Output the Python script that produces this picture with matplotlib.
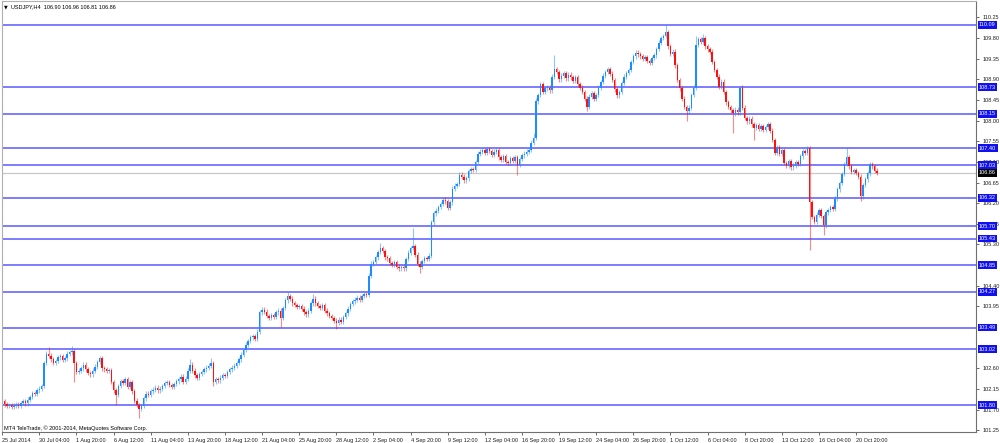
import matplotlib
matplotlib.use("Agg")
import matplotlib.pyplot as plt
from matplotlib.transforms import blended_transform_factory

# ---------------- data ----------------
closes = [
    101.88, 101.82, 101.78, 101.80, 101.76, 101.79, 101.81, 101.78, 101.85, 101.88,
    101.84, 101.92, 101.98, 102.06, 102.04, 102.12, 102.16, 102.22, 102.72, 102.92,
    102.88, 102.80, 102.72, 102.76, 102.84, 102.86, 102.78, 102.82, 102.92, 102.95,
    102.98, 102.72, 102.52, 102.55, 102.60, 102.68, 102.58, 102.50, 102.47, 102.55,
    102.64, 102.74, 102.82, 102.60, 102.58, 102.55, 102.57, 102.30, 102.12, 102.02,
    102.22, 102.32, 102.28, 102.36, 102.20, 102.30, 102.10, 101.90, 101.80, 101.72,
    101.78, 101.95, 102.05, 102.02, 102.10, 102.14, 102.18, 102.12, 102.16, 102.22,
    102.28, 102.30, 102.24, 102.20, 102.26, 102.32, 102.36, 102.42, 102.30, 102.38,
    102.55, 102.68, 102.55, 102.45, 102.40, 102.48, 102.52, 102.58, 102.62, 102.66,
    102.72, 102.30, 102.36, 102.34, 102.40, 102.46, 102.44, 102.52, 102.58, 102.62,
    102.66, 102.72, 102.80, 102.90, 103.00, 103.12, 103.20, 103.28, 103.30, 103.24,
    103.40, 103.82, 103.88, 103.84, 103.74, 103.70, 103.76, 103.72, 103.82, 103.86,
    103.70, 103.92, 104.08, 104.18, 104.12, 104.02, 103.98, 103.94, 103.96, 103.90,
    103.82, 103.78, 103.86, 104.02, 104.12, 104.02, 103.96, 103.92, 103.98, 103.86,
    103.80, 103.74, 103.70, 103.64, 103.60, 103.66, 103.62, 103.72, 103.80, 103.90,
    104.00, 104.06, 104.10, 104.14, 104.10, 104.18, 104.22, 104.20, 104.62, 104.88,
    104.92, 105.02, 105.14, 105.22, 105.16, 105.02, 105.00, 104.90, 104.86, 104.92,
    104.82, 104.78, 104.82, 104.78, 104.98, 105.12, 105.22, 105.26, 105.08, 104.88,
    104.82, 104.94, 105.00, 104.98, 105.06, 105.78, 105.98, 106.04, 106.12, 106.18,
    106.28, 106.24, 106.10, 106.22, 106.52, 106.58, 106.62, 106.82, 106.78, 106.70,
    106.74, 106.90, 106.94, 106.92, 107.10, 107.28, 107.32, 107.36, 107.30, 107.38,
    107.34, 107.26, 107.32, 107.36, 107.20, 107.14, 107.22, 107.10, 107.08, 107.18,
    107.12, 107.20, 107.04, 107.16, 107.24, 107.28, 107.32, 107.36, 107.52, 107.62,
    108.42, 108.56, 108.80, 108.62, 108.70, 108.72, 108.66, 108.96, 109.12, 109.06,
    108.90, 108.98, 109.04, 108.92, 109.00, 108.94, 108.86, 108.94, 108.80, 108.72,
    108.62, 108.48, 108.30, 108.52, 108.60, 108.48, 108.56, 108.72, 108.84, 108.98,
    109.06, 109.12, 109.02, 108.88, 108.68, 108.55, 108.62, 108.82, 108.96, 109.04,
    109.10, 109.28, 109.40, 109.48, 109.44, 109.40, 109.34, 109.38, 109.30, 109.26,
    109.36, 109.42, 109.56, 109.70, 109.80, 109.84, 109.92, 109.62, 109.45, 109.50,
    109.20, 108.88, 108.70, 108.48, 108.30, 108.20, 108.28, 108.56, 108.72, 109.65,
    109.78, 109.72, 109.80, 109.62, 109.55, 109.50, 109.28, 109.10, 108.96, 108.74,
    108.85, 108.62, 108.40, 108.30, 108.22, 108.16, 108.24, 108.18, 108.72, 108.28,
    108.06, 107.98, 108.04, 107.92, 107.84, 107.90, 107.82, 107.88, 107.80, 107.86,
    107.92, 107.78, 107.58, 107.30, 107.42, 107.28, 107.36, 107.08, 107.02, 107.12,
    106.98, 107.02, 107.10, 107.06, 107.22, 107.34, 107.30, 107.40, 106.22, 105.90,
    105.80, 105.95, 106.05, 105.92, 105.72, 106.00, 106.05, 106.12, 106.08, 106.30,
    106.50, 106.64, 106.84, 107.05, 107.20, 107.00, 106.88, 106.92, 106.86, 106.78,
    106.35, 106.60, 106.72, 106.85, 107.05, 107.00, 106.90, 106.86,
]
first_open = 101.90

# explicit wick extremes (bar index -> price)
high_marks = {20: 103.06, 30: 103.08, 42: 102.88, 81: 102.80, 90: 102.82, 123: 104.27,
              134: 104.22, 163: 105.33, 177: 105.66, 229: 107.72, 230: 108.50, 238: 109.42,
              286: 110.09, 299: 109.85, 302: 109.88, 318: 108.76, 347: 107.45, 364: 107.40,
              377: 106.96}
low_marks = {31: 102.30, 49: 101.80, 59: 101.52, 91: 102.22, 120: 103.50, 144: 103.45,
             180: 104.68, 222: 106.82, 252: 108.20, 295: 107.98, 315: 107.72, 324: 107.58,
             348: 105.17, 354: 105.50, 370: 106.25, 377: 106.81}

levels = [110.09, 108.73, 108.15, 107.40, 107.03, 106.32, 105.70, 105.43,
          104.85, 104.27, 103.49, 103.02, 101.80]
bid_price = 106.86

# right-axis price ticks (those fully hidden under a level box are not drawn)
y_ticks = [110.25, 109.80, 109.35, 108.90, 108.45, 108.00, 107.55, 107.10, 106.65,
           106.20, 105.75, 105.30, 104.40, 103.95, 102.60, 102.15, 101.70, 101.25]

x_labels = ["25 Jul 2014", "30 Jul 04:00", "1 Aug 20:00", "6 Aug 12:00", "11 Aug 04:00",
            "13 Aug 20:00", "18 Aug 12:00", "21 Aug 04:00", "25 Aug 20:00", "28 Aug 12:00",
            "2 Sep 04:00", "4 Sep 20:00", "9 Sep 12:00", "12 Sep 04:00", "16 Sep 20:00",
            "19 Sep 12:00", "24 Sep 04:00", "26 Sep 20:00", "1 Oct 12:00", "6 Oct 04:00",
            "8 Oct 20:00", "13 Oct 12:00", "16 Oct 04:00", "20 Oct 20:00"]
bars_per_label = 16

header = "USDJPY,H4  106.90 106.96 106.81 106.86"
footer = "MT4 TeleTrade, \u00a9 2001-2014, MetaQuotes Software Corp."

# ---------------- build OHLC ----------------
WICK_PAD = 0.05
opens = [first_open] + closes[:-1]
highs, lows = [], []
for i, (o, c) in enumerate(zip(opens, closes)):
    highs.append(high_marks.get(i, max(o, c) + WICK_PAD))
    lows.append(low_marks.get(i, min(o, c) - WICK_PAD))

BULL = "#1e8cff"
BEAR = "#ff1010"
FS = 4.0

plt.rcParams['font.family'] = ['Liberation Sans', 'DejaVu Sans']
fig = plt.figure(figsize=(10, 4.43), dpi=100)
W, H = 1000, 443
ax = fig.add_axes([2 / W, (H - 432) / H, 974 / W, 431 / H])
ax.set_facecolor("white")

px_per_bar = 2.32
x_left = -0.1
ax.set_xlim(x_left, x_left + 974 / px_per_bar)
ax.set_ylim(101.215, 110.605)

# levels
for lv in levels:
    ax.axhline(lv, color="#5858ff", lw=1.1, zorder=1)
ax.axhline(bid_price, color="#c8c8c8", lw=0.9, zorder=1)

# candles
for i in range(len(closes)):
    o, c, h, l = opens[i], closes[i], highs[i], lows[i]
    col = BULL if c >= o else BEAR
    ax.vlines(i, l, h, colors=col, lw=0.8, alpha=0.5, zorder=2)
    bottom = min(o, c)
    height = max(abs(c - o), 0.012)
    ax.bar(i, height, bottom=bottom, width=0.62, color=col, lw=0, zorder=3)

# spines
for s in ["left", "top"]:
    ax.spines[s].set_color("#b0b0b0")
    ax.spines[s].set_linewidth(0.8)
for s in ["right", "bottom"]:
    ax.spines[s].set_color("#707070")
    ax.spines[s].set_linewidth(0.8)

# y axis on right
ax.yaxis.tick_right()
ax.set_yticks(y_ticks)
ax.set_yticklabels(["%.2f" % v for v in y_ticks], fontsize=FS, color="#202020")
ax.tick_params(axis="y", direction="out", length=2.5, width=0.6, color="#505050", pad=2.5)

# x axis
xt = [k * bars_per_label for k in range(len(x_labels))]
ax.set_xticks(xt)
ax.set_xticklabels(x_labels, fontsize=FS, color="#202020")
ax.tick_params(axis="x", direction="out", length=2.5, width=0.6, color="#505050", pad=1.5)
for lbl in ax.get_xticklabels():
    lbl.set_horizontalalignment("left")

# level labels (blue boxes)
tr = blended_transform_factory(ax.transAxes, ax.transData)
for lv in levels:
    ax.text(1.003, lv, "%.2f" % lv, transform=tr, fontsize=FS, color="white",
            va="center", ha="left", zorder=10, clip_on=False,
            bbox=dict(boxstyle="square,pad=0.25", fc="#1010f0", ec="none"))
ax.text(1.003, bid_price, "%.2f" % bid_price, transform=tr, fontsize=FS, color="white",
        va="center", ha="left", zorder=11, clip_on=False,
        bbox=dict(boxstyle="square,pad=0.25", fc="#000000", ec="none"))

# header & footer
fig.text(3.5 / W, 1 - 6.5 / H, "\u25bc", fontsize=3.5, color="#000000", va="center",
         ha="left", family="DejaVu Sans")
fig.text(11 / W, 1 - 6.5 / H, header, fontsize=FS, color="#000000", va="center", ha="left")
fig.text(4 / W, 1 - 428 / H, footer, fontsize=FS, color="#000000", va="center", ha="left")

fig.savefig("out.png", dpi=100, facecolor="white")
